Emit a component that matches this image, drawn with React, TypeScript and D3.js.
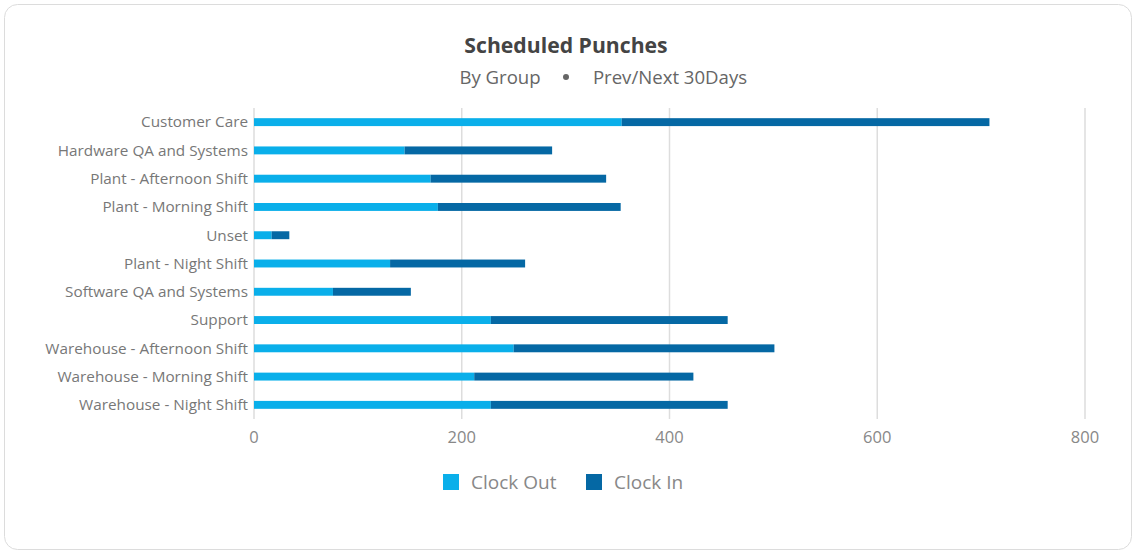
import React from 'react';
import * as d3 from 'd3';

const groups = [
  'Customer Care',
  'Hardware QA and Systems',
  'Plant - Afternoon Shift',
  'Plant - Morning Shift',
  'Unset',
  'Plant - Night Shift',
  'Software QA and Systems',
  'Support',
  'Warehouse - Afternoon Shift',
  'Warehouse - Morning Shift',
  'Warehouse - Night Shift',
];
const clockOut = [354, 145, 170, 177, 17, 131, 76, 228, 250, 212, 228];
const clockIn = [354, 142, 169, 176, 17, 130, 75, 228, 251, 211, 228];
const xTicks = [0, 200, 400, 600, 800];

const seriesNames = ['Clock Out', 'Clock In'];
const seriesColors = ['#0aafea', '#0568a4'];

const W = 1137;
const H = 555;
const FONT = '"Open Sans", sans-serif';

const App: React.FC = () => {
  const x = d3.scaleLinear().domain([0, 800]).range([254, 1085]);
  const y = d3.scaleBand<string>().domain(groups).range([108, 419]).paddingInner(0.72).paddingOuter(0.36);

  const rows = groups.map((g, i) => ({ g, a: clockOut[i], b: clockIn[i] }));

  return (
    <svg width={W} height={H} style={{ position: 'absolute', left: 0, top: 0, fontFamily: FONT }}>
      <rect x={4.5} y={4.5} width={1127} height={545} rx={13} fill="#fff" stroke="#dcdcdc" />

      <text x={566} y={53} textAnchor="middle" fontSize={21.2} fontWeight={700} fill="#444">
        Scheduled Punches
      </text>
      <text x={500} y={84} textAnchor="middle" fontSize={18.6} fill="#666">By Group</text>
      <circle cx={566} cy={77} r={3} fill="#666" />
      <text x={670} y={84} textAnchor="middle" fontSize={18.6} fill="#666">Prev/Next 30Days</text>

      {/* grid */}
      {xTicks.map(t => (
        <g key={t}>
          <line x1={x(t)} x2={x(t)} y1={108} y2={419} stroke="#dddddd" strokeWidth={1.5} />
          <text x={x(t)} y={443} textAnchor="middle" fontSize={16.5} fill="#888">{t}</text>
        </g>
      ))}

      {/* bars */}
      {rows.map(r => {
        const yy = y(r.g) || 0;
        const bh = y.bandwidth();
        return (
          <g key={r.g}>
            <text x={248} y={yy + bh / 2} dy="0.35em" textAnchor="end" fontSize={15.3} fill="#777">
              {r.g}
            </text>
            <rect x={x(0)} y={yy} width={x(r.a) - x(0)} height={bh} fill={seriesColors[0]} />
            <rect x={x(r.a)} y={yy} width={x(r.a + r.b) - x(r.a)} height={bh} fill={seriesColors[1]} />
          </g>
        );
      })}

      {/* legend */}
      {seriesNames.map((s, i) => {
        const lx = [443, 586][i];
        return (
          <g key={s}>
            <rect x={lx} y={474} width={16} height={16} fill={seriesColors[i]} />
            <text x={lx + 28} y={488.5} fontSize={19} fill="#888">{s}</text>
          </g>
        );
      })}
    </svg>
  );
};

export default App;
